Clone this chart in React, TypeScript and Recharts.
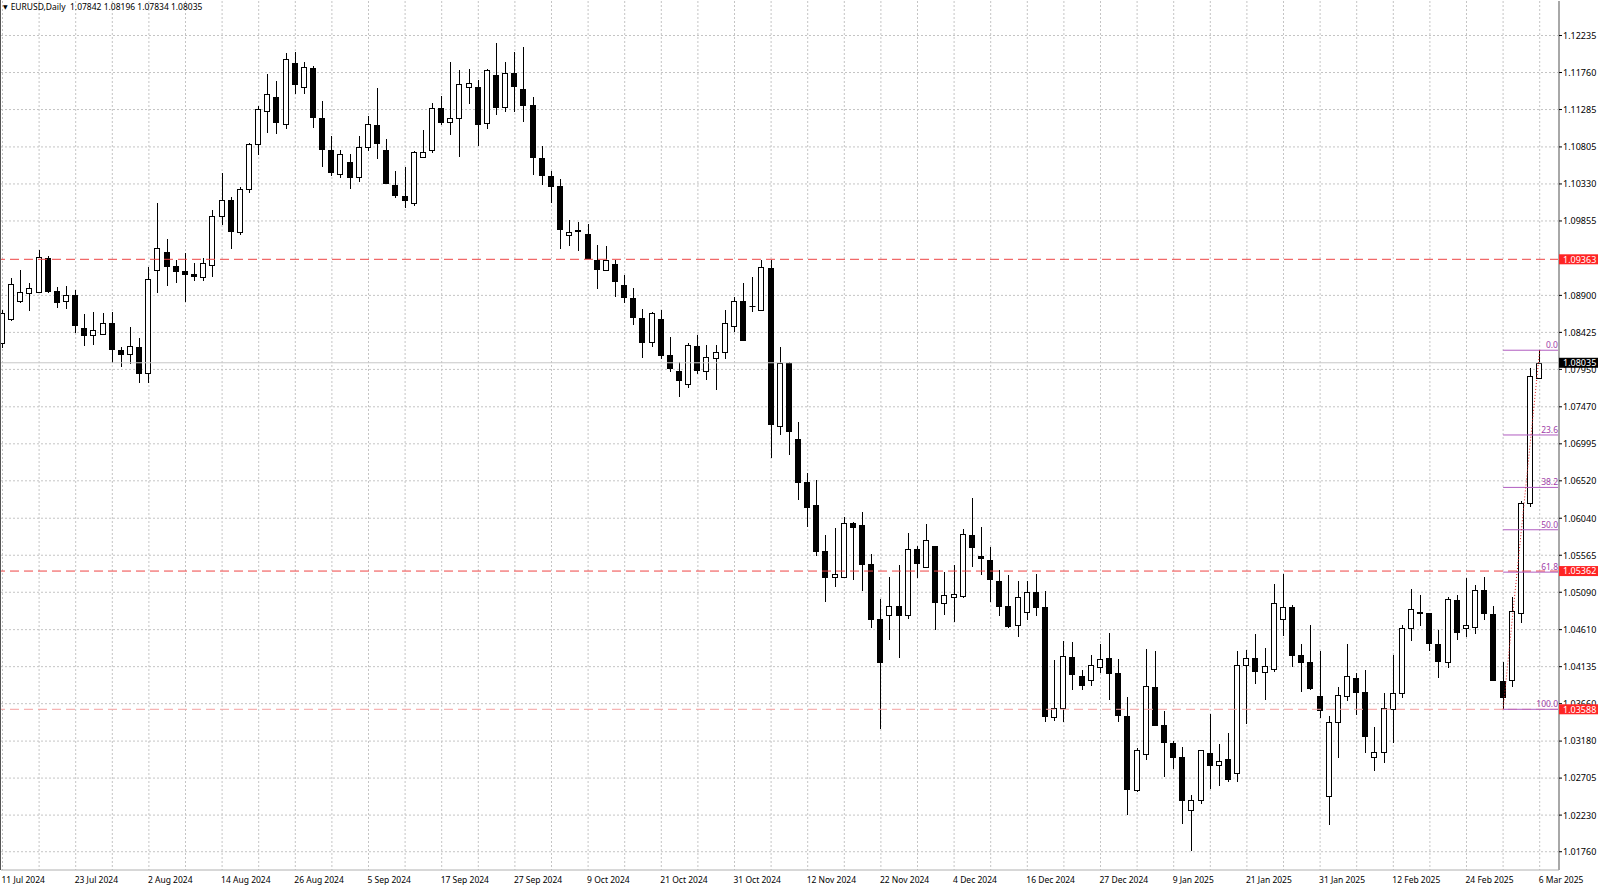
import React from "react";
import {
  ComposedChart,
  Bar,
  XAxis,
  YAxis,
  CartesianGrid,
  ReferenceLine,
} from "recharts";

// ---------- DATA (EURUSD Daily, 11 Jul 2024 - 6 Mar 2025) ----------
const opens = [
  1.0829, 1.086, 1.0883, 1.0893, 1.0894, 1.0938, 1.0895, 1.0883, 1.089, 1.0848,
  1.0839, 1.0841, 1.0855, 1.082, 1.0815, 1.0824, 1.079, 1.0923, 1.0946, 1.0928,
  1.0921, 1.0917, 1.0914, 1.0929, 1.0992, 1.1012, 1.0971, 1.1026, 1.1084, 1.1127,
  1.1144, 1.111, 1.1188, 1.1158, 1.1182, 1.1118, 1.1077, 1.1046, 1.1061, 1.1042,
  1.1081, 1.1109, 1.1077, 1.1032, 1.1018, 1.1009, 1.1067, 1.1077, 1.1131, 1.1112,
  1.1118, 1.1157, 1.1158, 1.1111, 1.1173, 1.1132, 1.1175, 1.1155, 1.1134, 1.1066,
  1.1043, 1.103, 1.0967, 1.0972, 1.0969, 1.0936, 1.0923, 1.093, 1.0903, 1.0887,
  1.0861, 1.083, 1.086, 1.0814, 1.0793, 1.0776, 1.0825, 1.0793, 1.081, 1.0817,
  1.0851, 1.0883, 1.0876, 1.0871, 1.0925, 1.0722, 1.0803, 1.0706, 1.065, 1.0621,
  1.0562, 1.0529, 1.0529, 1.0598, 1.0595, 1.0545, 1.0475, 1.048, 1.0491, 1.048,
  1.0564, 1.0542, 1.0568, 1.0495, 1.0503, 1.0504, 1.0582, 1.0556, 1.0551, 1.0524,
  1.0491, 1.0467, 1.0484, 1.0509, 1.049, 1.0349, 1.0361, 1.0426, 1.0401, 1.0397,
  1.0413, 1.0425, 1.0406, 1.035, 1.0255, 1.0301, 1.0388, 1.0339, 1.0315, 1.0298,
  1.023, 1.0243, 1.0303, 1.0287, 1.0295, 1.0277, 1.0415, 1.0425, 1.0407, 1.0411,
  1.0475, 1.049, 1.0428, 1.0419, 1.0376, 1.0248, 1.0343, 1.0376, 1.0399, 1.0381,
  1.0297, 1.0304, 1.0359, 1.038, 1.0463, 1.0484, 1.0482, 1.0443, 1.0419, 1.0499,
  1.0463, 1.0465, 1.0512, 1.0481, 1.0395, 1.0396, 1.0482, 1.0624, 1.07842,
];
const highs = [
  1.0871, 1.0912, 1.0923, 1.0906, 1.0948, 1.0941, 1.0901, 1.0902, 1.0897, 1.0866,
  1.0869, 1.0868, 1.0869, 1.0824, 1.0849, 1.0835, 1.0926, 1.1008, 1.0962, 1.0936,
  1.0945, 1.0931, 1.0938, 1.0999, 1.1047, 1.1016, 1.1029, 1.1085, 1.1133, 1.1174,
  1.1165, 1.1201, 1.1202, 1.119, 1.1184, 1.114, 1.1095, 1.1077, 1.1072, 1.1095,
  1.112, 1.1156, 1.1091, 1.1049, 1.1055, 1.1075, 1.1102, 1.1137, 1.1146, 1.1189,
  1.1179, 1.1181, 1.1167, 1.118, 1.1214, 1.1189, 1.1202, 1.1209, 1.1144, 1.1082,
  1.1049, 1.1039, 1.0987, 1.0984, 1.0981, 1.0955, 1.0954, 1.0936, 1.0916, 1.09,
  1.0873, 1.0869, 1.0871, 1.0837, 1.0805, 1.0829, 1.0839, 1.0826, 1.0826, 1.0871,
  1.0888, 1.0906, 1.0914, 1.0936, 1.0936, 1.0824, 1.0805, 1.0727, 1.0662, 1.0653,
  1.0582, 1.0592, 1.0606, 1.0599, 1.0612, 1.0558, 1.05, 1.0529, 1.0544, 1.0585,
  1.0568, 1.0596, 1.0569, 1.0535, 1.0544, 1.059, 1.063, 1.0593, 1.0567, 1.0538,
  1.0531, 1.0523, 1.0523, 1.0533, 1.0511, 1.0422, 1.0446, 1.0445, 1.0409, 1.0428,
  1.0443, 1.0457, 1.0423, 1.0374, 1.0309, 1.0436, 1.0434, 1.0357, 1.0318, 1.0311,
  1.0249, 1.0307, 1.0353, 1.0314, 1.0329, 1.0434, 1.0435, 1.0456, 1.0437, 1.052,
  1.0532, 1.0493, 1.0442, 1.0467, 1.0433, 1.035, 1.0387, 1.0443, 1.0405, 1.0409,
  1.0336, 1.038, 1.0429, 1.0467, 1.0513, 1.0505, 1.0483, 1.0461, 1.0503, 1.0505,
  1.0527, 1.0518, 1.0528, 1.0491, 1.0419, 1.0503, 1.0626, 1.0797, 1.08196,
];
const lows = [
  1.0823, 1.0857, 1.088, 1.087, 1.0893, 1.0893, 1.0874, 1.0872, 1.0842, 1.0825,
  1.0826, 1.084, 1.0803, 1.0798, 1.0802, 1.0778, 1.0777, 1.0893, 1.0902, 1.0906,
  1.0881, 1.0908, 1.0909, 1.0913, 1.098, 1.0949, 1.0968, 1.1021, 1.107, 1.1099,
  1.1097, 1.1103, 1.1149, 1.1149, 1.1105, 1.1055, 1.1043, 1.1041, 1.1026, 1.1035,
  1.1075, 1.1065, 1.1033, 1.1015, 1.1002, 1.1005, 1.1066, 1.1073, 1.1109, 1.1096,
  1.1068, 1.1136, 1.1082, 1.1103, 1.1122, 1.1125, 1.1125, 1.1113, 1.1045, 1.1032,
  1.1008, 1.095, 1.0954, 1.0947, 1.0937, 1.0898, 1.0923, 1.0888, 1.088, 1.0852,
  1.081, 1.0824, 1.0808, 1.0792, 1.076, 1.0771, 1.0789, 1.0781, 1.0768, 1.0808,
  1.0843, 1.0831, 1.0869, 1.087, 1.0681, 1.0711, 1.0685, 1.0627, 1.0593, 1.0555,
  1.0496, 1.0516, 1.0529, 1.0525, 1.051, 1.0463, 1.0333, 1.0448, 1.0424, 1.0475,
  1.0527, 1.0541, 1.046, 1.048, 1.0471, 1.0502, 1.0541, 1.0531, 1.0497, 1.0478,
  1.0463, 1.0452, 1.0473, 1.0478, 1.0343, 1.0344, 1.0342, 1.0383, 1.0383, 1.0389,
  1.0406, 1.0371, 1.0343, 1.0223, 1.0253, 1.0294, 1.0339, 1.0272, 1.0282, 1.0211,
  1.0177, 1.0237, 1.0257, 1.026, 1.0265, 1.0265, 1.034, 1.0391, 1.0371, 1.0407,
  1.0453, 1.0413, 1.0381, 1.0384, 1.0348, 1.021, 1.0296, 1.0369, 1.0351, 1.0303,
  1.028, 1.029, 1.0315, 1.0373, 1.0446, 1.0466, 1.0434, 1.0399, 1.0412, 1.0448,
  1.0452, 1.0455, 1.0474, 1.0395, 1.03588, 1.0387, 1.0469, 1.0619, 1.07834,
];
const closes = [
  1.0867, 1.0904, 1.0894, 1.0899, 1.0939, 1.0895, 1.0881, 1.089, 1.0852, 1.0839,
  1.0846, 1.0854, 1.0821, 1.0815, 1.0825, 1.0791, 1.0911, 1.0951, 1.0928, 1.0921,
  1.0918, 1.0915, 1.0931, 1.0992, 1.1012, 1.0972, 1.1026, 1.1084, 1.1129, 1.1149,
  1.1112, 1.1193, 1.1161, 1.1183, 1.1119, 1.1078, 1.1048, 1.1071, 1.1042, 1.1081,
  1.111, 1.1085, 1.1034, 1.1019, 1.1012, 1.1074, 1.1074, 1.1131, 1.1113, 1.1118,
  1.1161, 1.1162, 1.111, 1.1179, 1.1132, 1.1176, 1.1159, 1.1134, 1.1067, 1.1044,
  1.103, 1.0975, 1.0971, 1.0974, 1.0938, 1.0924, 1.0935, 1.0908, 1.0888, 1.0862,
  1.083, 1.0867, 1.0814, 1.0797, 1.0781, 1.0826, 1.0794, 1.0811, 1.0817, 1.0855,
  1.0883, 1.0833, 1.0877, 1.0926, 1.0725, 1.0803, 1.0716, 1.0651, 1.0619, 1.0562,
  1.0529, 1.0532, 1.0598, 1.0593, 1.0545, 1.0475, 1.0419, 1.0491, 1.048, 1.0564,
  1.0546, 1.0576, 1.0496, 1.0505, 1.0507, 1.0584, 1.0567, 1.0553, 1.0526, 1.0491,
  1.0466, 1.0503, 1.0509, 1.049, 1.035, 1.0361, 1.0427, 1.0404, 1.039, 1.0415,
  1.0423, 1.0406, 1.0352, 1.0256, 1.0306, 1.0389, 1.0339, 1.0317, 1.0298, 1.0243,
  1.0243, 1.0306, 1.0287, 1.0293, 1.0269, 1.0415, 1.0424, 1.0408, 1.0414, 1.0495,
  1.049, 1.0429, 1.042, 1.0386, 1.0358, 1.0343, 1.0377, 1.0401, 1.0381, 1.0324,
  1.0304, 1.036, 1.038, 1.0463, 1.0487, 1.0482, 1.0444, 1.0421, 1.05, 1.0458,
  1.0467, 1.0512, 1.0483, 1.0396, 1.0374, 1.0485, 1.0624, 1.0786, 1.08035,
];

// x-axis: bar index of each date label, and the labels
const tickBars = [0, 8, 16, 24, 32, 40, 48, 56, 64, 72, 80, 88, 96, 104, 112, 120, 128, 136, 144, 152, 160, 168];
const tickLabels = [
  "11 Jul 2024", "23 Jul 2024", "2 Aug 2024", "14 Aug 2024", "26 Aug 2024", "5 Sep 2024",
  "17 Sep 2024", "27 Sep 2024", "9 Oct 2024", "21 Oct 2024", "31 Oct 2024", "12 Nov 2024",
  "22 Nov 2024", "4 Dec 2024", "16 Dec 2024", "27 Dec 2024", "9 Jan 2025", "21 Jan 2025",
  "31 Jan 2025", "12 Feb 2025", "24 Feb 2025", "6 Mar 2025",
];

// price-scale ticks
const priceTicks = [
  1.0176, 1.0223, 1.02705, 1.0318, 1.0366, 1.04135, 1.0461, 1.0509, 1.05565, 1.0604,
  1.0652, 1.06995, 1.0747, 1.0795, 1.08425, 1.089, 1.09855, 1.1033, 1.10805, 1.11285,
  1.1176, 1.12235,
];

// horizontal levels
const levelPrices = [1.09363, 1.05362];
const lowLevelPrice = 1.03588;
const bidPrice = 1.08035;

// Fibonacci retracement (anchored on bar 164 low -> bar 168 high)
const fibLowBar = 164;
const fibHighBar = 168;
const fibLow = 1.03588;
const fibHigh = 1.08196;
const fibRatios = [0, 0.236, 0.382, 0.5, 0.618, 1];
const fibNames = ["0.0", "23.6", "38.2", "50.0", "61.8", "100.0"];

const titleText = "EURUSD,Daily  1.07842 1.08196 1.07834 1.08035";

// ---------- layout constants ----------
const W = 1600;
const H = 888;
const X_DOMAIN: [number, number] = [-0.164, 170.109];
const Y_DOMAIN: [number, number] = [1.015255, 1.126779];
const FONT = "'Noto Sans', 'DejaVu Sans', sans-serif";

const data = opens.map((o, i) => ({ i, o, h: highs[i], l: lows[i], c: closes[i] }));
const gridBars = data.filter((d) => d.i % 4 === 0).map((d) => d.i);
const allYTicks = [...priceTicks, lowLevelPrice, ...levelPrices, bidPrice];

function Candle(props: any) {
  const { x, y, width, height, payload } = props;
  if (!payload || x == null || y == null || !height) return <g />;
  const { o, h, l, c } = payload;
  const top = Math.min(y, y + height);
  const span = Math.abs(height);
  const k = span / (h - l);
  const yOf = (v: number) => top + (h - v) * k;
  const cx = Math.floor(x + width / 2) + 0.5;
  const yo = yOf(o);
  const yc = yOf(c);
  const bt = Math.round(Math.min(yo, yc)) + 0.5;
  const bb = Math.round(Math.max(yo, yc)) + 0.5;
  const bull = c >= o;
  return (
    <g>
      <line x1={cx} x2={cx} y1={Math.round(top)} y2={Math.round(top + span)} stroke="#000" strokeWidth={1} />
      {bb - bt < 1 ? (
        <line x1={cx - 3} x2={cx + 3} y1={bt} y2={bt} stroke="#000" strokeWidth={1} />
      ) : (
        <rect
          x={cx - 3}
          y={bt}
          width={5}
          height={bb - bt}
          fill={bull ? "#ffffff" : "#000000"}
          stroke="#000"
          strokeWidth={1}
        />
      )}
    </g>
  );
}

function PriceTick(props: any) {
  const { x, y, payload } = props;
  const v: number = payload.value;
  const txt = v.toFixed(5);
  const isLevel = levelPrices.some((p) => Math.abs(p - v) < 1e-9) || Math.abs(v - lowLevelPrice) < 1e-9;
  const isBid = Math.abs(v - bidPrice) < 1e-9;
  if (isLevel || isBid) {
    return (
      <g>
        <rect x={x - 4} y={y - 5} width={39} height={10} fill={isBid ? "#000000" : "#ff2424"} />
        <text x={x} y={y + 3.4} fill="#ffffff" fontSize={9} fontFamily={FONT}>
          {txt}
        </text>
      </g>
    );
  }
  return (
    <text x={x} y={y + 3.4} fill="#000" fontSize={9} fontFamily={FONT}>
      {txt}
    </text>
  );
}

function DateTick(props: any) {
  const { x, y, payload } = props;
  const k = tickBars.indexOf(payload.value);
  if (k < 0) return <g />;
  return (
    <text x={x - 1} y={y + 13} fill="#000" fontSize={8.5} fontFamily={FONT}>
      {tickLabels[k]}
    </text>
  );
}

function FibLabel(props: any) {
  const vb = props.viewBox || {};
  const { text } = props;
  return (
    <text
      x={(vb.x || 0) + (vb.width || 0) - 1}
      y={(vb.y || 0) - 2}
      textAnchor="end"
      fill="#a040a8"
      fontSize={8.5}
      fontFamily={FONT}
    >
      {text}
    </text>
  );
}

export default function App() {
  return (
    <div style={{ position: "absolute", left: 0, top: 0, width: W, height: H, background: "#fff", overflow: "hidden" }}>
      <ComposedChart width={W} height={H} data={data} margin={{ top: 1, right: 0, left: 1, bottom: 0 }}>
        <CartesianGrid
          stroke="#c4c4c4"
          strokeDasharray="2 2"
          horizontalValues={priceTicks}
          verticalValues={gridBars}
        />
        <XAxis
          dataKey="i"
          type="number"
          domain={X_DOMAIN}
          allowDataOverflow
          ticks={gridBars}
          interval={0}
          height={18}
          tickSize={0}
          tickMargin={0}
          tickLine={false}
          axisLine={{ stroke: "#b0b0b0" }}
          tick={<DateTick />}
        />
        <YAxis
          orientation="right"
          type="number"
          domain={Y_DOMAIN}
          allowDataOverflow
          ticks={allYTicks}
          interval={0}
          width={41}
          tickSize={3}
          tickMargin={1}
          tickLine={{ stroke: "#000" }}
          axisLine={{ stroke: "#a8a8a8", strokeWidth: 2 }}
          tick={<PriceTick />}
        />
        <ReferenceLine y={bidPrice} stroke="#c8c8c8" strokeWidth={1} />
        <Bar
          dataKey={(d: any) => [d.l, d.h]}
          shape={<Candle />}
          barSize={7}
          isAnimationActive={false}
        />
        {levelPrices.map((p) => (
          <ReferenceLine key={p} y={p} stroke="#ee4444" strokeDasharray="9 5" strokeWidth={1} />
        ))}
        <ReferenceLine y={lowLevelPrice} stroke="#f4a0a0" strokeDasharray="9 5" strokeWidth={1} />
        {fibRatios.map((r, k) => {
          const p = fibHigh - r * (fibHigh - fibLow);
          return (
            <ReferenceLine
              key={fibNames[k]}
              segment={[
                { x: fibLowBar, y: p },
                { x: X_DOMAIN[1], y: p },
              ]}
              ifOverflow="visible"
              stroke="#b05cc0"
              strokeWidth={1}
              label={(lp: any) => <FibLabel viewBox={lp.viewBox} text={fibNames[k]} />}
            />
          );
        })}
        <ReferenceLine
          segment={[
            { x: fibLowBar, y: fibLow },
            { x: fibHighBar, y: fibHigh },
          ]}
          ifOverflow="visible"
          stroke="#e02020"
          strokeDasharray="1 2"
          strokeWidth={1}
        />
      </ComposedChart>
      <div style={{ position: "absolute", left: 0, top: 0, width: 1, height: 870, background: "#555" }} />
      <div
        style={{
          position: "absolute",
          left: 3,
          top: 2,
          fontFamily: FONT,
          fontSize: "8.5px",
          lineHeight: "10px",
          color: "#000",
          whiteSpace: "pre",
        }}
      >
        <span style={{ fontSize: "6px", verticalAlign: "1px", marginRight: 3 }}>▼</span>
        {titleText}
      </div>
    </div>
  );
}
